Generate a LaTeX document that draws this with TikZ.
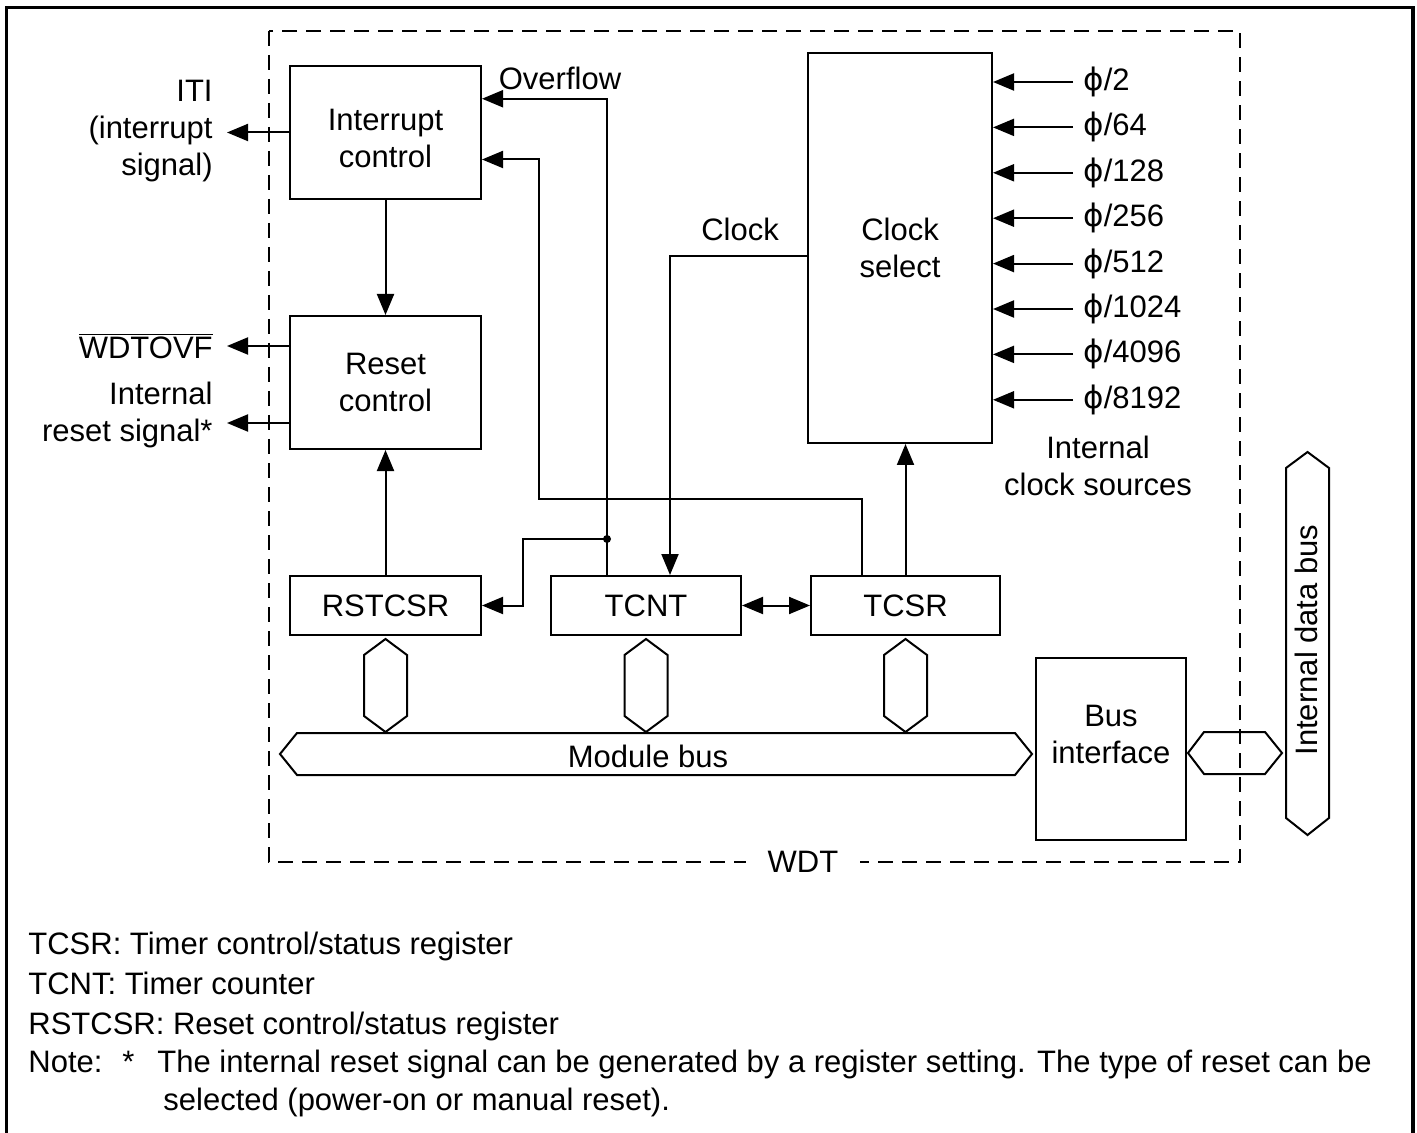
\documentclass[tikz,border=0pt]{standalone}
\usepackage{fontspec}
\setmainfont{Liberation Sans}
\newfontfamily\phifont{DejaVu Sans}
\usetikzlibrary{arrows.meta,calc}
\newcommand\dsz{\fontsize{15.5}{18.5}\selectfont}
\tikzset{
  blk/.style={draw, line width=1pt, align=center, inner sep=0pt, font=\dsz},
  lbl/.style={inner sep=0pt, font=\dsz},
  sig/.style={-{Triangle[length=10.5pt,width=8.5pt]}, line width=1pt},
  bisig/.style={{Triangle[length=10.5pt,width=8.5pt]}-{Triangle[length=10.5pt,width=8.5pt]}, line width=1pt},
  busln/.style={draw, line width=1pt},
  wdtbox/.style={line width=0.9pt, dash pattern=on 7.5pt off 4.5pt},
  legend/.style={lbl, anchor=base west}
}

\begin{document}
\begin{tikzpicture}[x=0.5pt, y=-0.5pt]
  \useasboundingbox (0,0) rectangle (1417,1133);
  % frame and WDT boundary
  \draw[line width=1.7pt] (6.5,1133) -- (6.5,7.5) -- (1413,7.5) -- (1413,1133);
  \draw[wdtbox] (269,31) rectangle (1240,862);
  \node[lbl, fill=white, inner xsep=11pt, inner ysep=2pt] (wdt) at (803,862) {WDT};

  % blocks
  \node[blk, minimum width=95.5pt, minimum height=66.5pt,
        label={[lbl, align=center, yshift=-3pt]center:{Interrupt\\control}}] (intc) at (385.5,132.5) {};
  \node[blk, minimum width=95.5pt, minimum height=66.5pt] (rstc) at (385.5,382.5) {Reset\\control};
  \node[blk, minimum width=95.5pt, minimum height=29.5pt] (rstcsr) at (385.5,605.5) {RSTCSR};
  \node[blk, minimum width=95pt, minimum height=29.5pt] (tcnt) at (646,605.5) {TCNT};
  \node[blk, minimum width=94.5pt, minimum height=29.5pt] (tcsr) at (905.5,605.5) {TCSR};
  \node[blk, minimum width=92pt, minimum height=195pt] (clksel) at (900,248) {Clock\\select};
  \node[blk, minimum width=75pt, minimum height=91pt,
        label={[lbl, align=center, yshift=7.5pt]center:{Bus\\interface}}] (busif) at (1111,749) {};

  % outputs
  \coordinate (iti) at (227,132.5);
  \coordinate (ovfout) at (227,346);
  \coordinate (rstout) at (227,423);
  \draw[sig] (intc.west) -- (iti);
  \draw[sig] (ovfout -| rstc.west) -- (ovfout);
  \draw[sig] (rstout -| rstc.west) -- (rstout);
  \node[lbl, align=right, anchor=east] (itilbl) at (213,131) {ITI\\(interrupt\\signal)};
  \node[lbl, anchor=east] (ovflbl) at (213,346) {$\overline{\mbox{WDTOVF}}$};
  \node[lbl, align=right, anchor=east] (rstlbl) at (213,415) {Internal\\reset signal*};

  \draw[sig] (intc.south) -- (rstc.north);
  \draw[sig] (rstcsr.north) -- (rstc.south);

  % overflow
  \coordinate (jn) at (607,539);
  \draw[sig] (jn |- tcnt.north) -- (jn) |- ($(intc.north east)!0.25!(intc.south east)$);
  \fill (jn) circle (2pt);
  \coordinate (rq) at (523,539);
  \draw[sig] (jn) -- (rq) |- (rstcsr.east);
  \node[lbl] (ovflow) at (560,78) {Overflow};

  \coordinate (tq) at (862,499);
  \coordinate (bq) at (539,499);
  \draw[sig] (tq |- tcsr.north) -- (tq) -- (bq) |- ($(intc.north east)!0.7!(intc.south east)$);

  % clock
  \coordinate (ck) at (670,256);
  \draw[sig] (ck -| clksel.west) -- (ck) -- (ck |- tcnt.north);
  \node[lbl] (cklbl) at (740,229) {Clock};
  \draw[bisig] (tcnt.east) -- (tcsr.west);
  \draw[sig] (tcsr.north) -- (tcsr.north |- clksel.south);

  \foreach \d [count=\i] in {2,64,128,256,512,1024,4096,8192}{
    \node[lbl, anchor=west, inner xsep=5pt] (src\i) at (1073,36.6+45.4*\i) {{\phifont ϕ}/\d};
    \draw[sig] (src\i.west) -- (src\i.west -| clksel.east);
  }
  \node[lbl, align=center] (srclbl) at (1098,466) {Internal\\clock sources};

  % buses
  \foreach \r in {rstcsr,tcnt,tcsr}
    \draw[busln] ($(\r.south)+(0,3)$) -- ++(21.5,16) -- ++(0,61) -- ++(-21.5,16) -- ++(-21.5,-16) -- ++(0,-61) -- cycle;
  \draw[busln] (280,754) -- (297,733) -- (1015,733) -- (1032,754) -- (1015,775) -- (297,775) -- cycle;
  \node[lbl] (mbus) at (648,756) {Module bus};
  \draw[busln] (1188,753) -- (1204,732) -- (1265,732) -- (1282,753) -- (1265,774) -- (1204,774) -- cycle;
  \draw[busln] (1307.5,452) -- (1329,468) -- (1329,818) -- (1307.5,835) -- (1286,818) -- (1286,468) -- cycle;
  \node[lbl, rotate=90] (idbus) at (1306,640) {Internal data bus};

  % legend
  \node[legend] (leg1) at (28,954) {TCSR: Timer control/status register};
  \node[legend] (leg2) at (28,994) {TCNT: Timer counter};
  \node[legend] (leg3) at (28,1034) {RSTCSR: Reset control/status register};
  \node[legend] (leg4) at (28,1072) {Note:};
  \node[legend] (leg4s) at (122,1072) {*};
  \node[legend] (leg4t) at (157,1072) {The internal reset signal can be generated by a register setting. The type of reset can be};
  \node[legend] (leg5) at (163,1110) {selected (power-on or manual reset).};
\end{tikzpicture}
\end{document}
